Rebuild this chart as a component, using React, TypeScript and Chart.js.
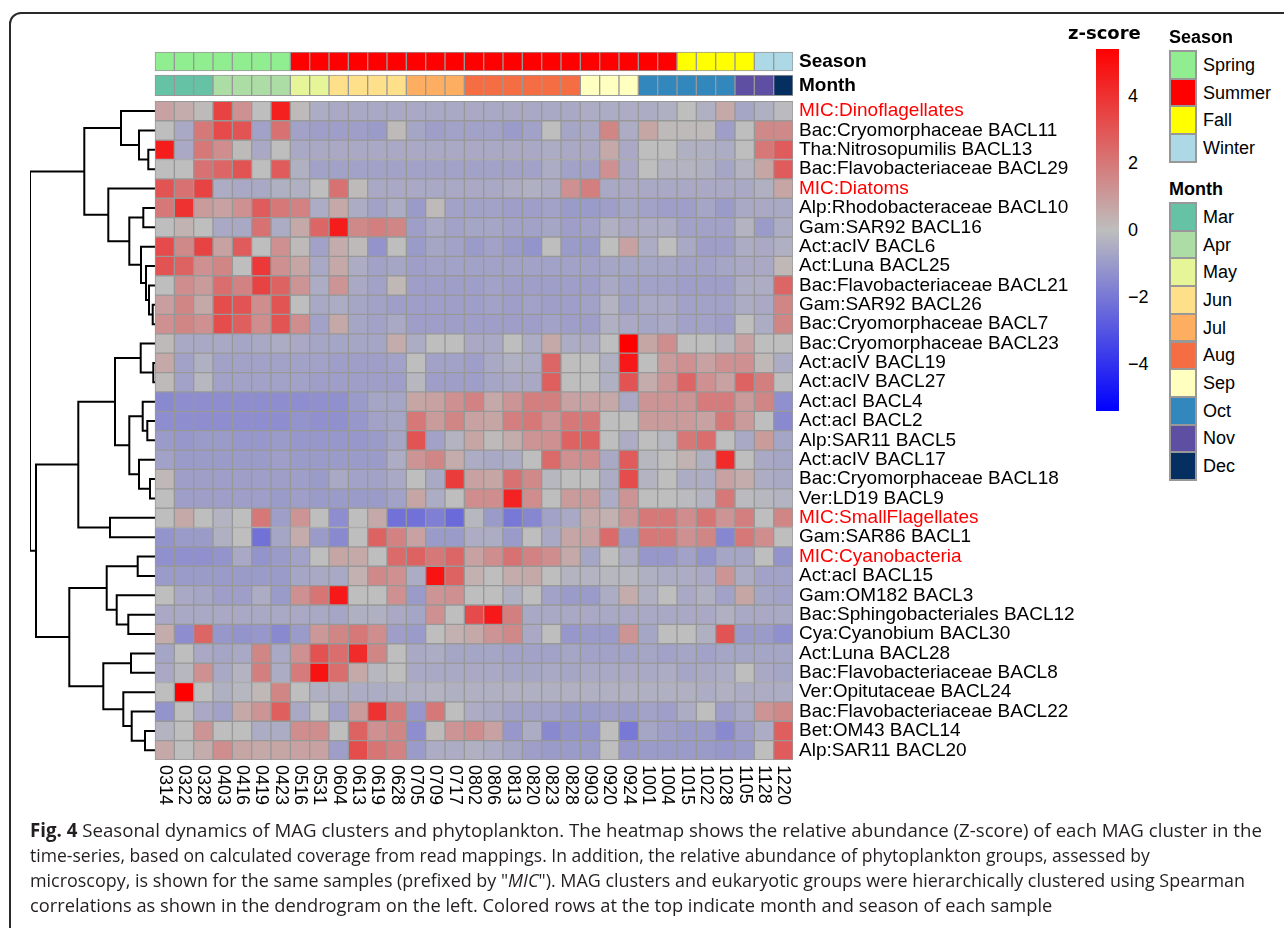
import React, { useEffect, useLayoutEffect, useRef } from 'react';
import { Chart, registerables } from 'chart.js';

Chart.register(...registerables);

// ---------------- data ----------------
const samples = ['0314','0322','0328','0403','0416','0419','0423','0516','0531','0604','0613','0619','0628','0705','0709','0717','0802','0806','0813','0820','0823','0828','0903','0920','0924','1001','1004','1015','1022','1028','1105','1128','1220'];

const seasonOfSample = ['Spring','Spring','Spring','Spring','Spring','Spring','Spring',
  'Summer','Summer','Summer','Summer','Summer','Summer','Summer','Summer','Summer','Summer',
  'Summer','Summer','Summer','Summer','Summer','Summer','Summer','Summer','Summer','Summer',
  'Fall','Fall','Fall','Fall','Winter','Winter'];

const monthOfSample = ['Mar','Mar','Mar','Apr','Apr','Apr','Apr','May','May','Jun','Jun','Jun','Jun',
  'Jul','Jul','Jul','Aug','Aug','Aug','Aug','Aug','Aug','Sep','Sep','Sep','Oct','Oct','Oct','Oct','Oct',
  'Nov','Nov','Dec'];

const seasonNames = ['Spring','Summer','Fall','Winter'];
const seasonColors = ['#90EE90','#FF0000','#FFFF00','#ADD8E6'];
const monthNames = ['Mar','Apr','May','Jun','Jul','Aug','Sep','Oct','Nov','Dec'];
const monthColors = ['#66C2A5','#ABDDA4','#E6F598','#FEE08B','#FDAE61','#F46D43','#FFFFBF','#3288BD','#5E4FA2','#052F61'];

const rowNames = [
  'MIC:Dinoflagellates','Bac:Cryomorphaceae BACL11','Tha:Nitrosopumilis BACL13','Bac:Flavobacteriaceae BACL29',
  'MIC:Diatoms','Alp:Rhodobacteraceae BACL10','Gam:SAR92 BACL16','Act:acIV BACL6','Act:Luna BACL25',
  'Bac:Flavobacteriaceae BACL21','Gam:SAR92 BACL26','Bac:Cryomorphaceae BACL7','Bac:Cryomorphaceae BACL23',
  'Act:acIV BACL19','Act:acIV BACL27','Act:acI BACL4','Act:acI BACL2','Alp:SAR11 BACL5','Act:acIV BACL17',
  'Bac:Cryomorphaceae BACL18','Ver:LD19 BACL9','MIC:SmallFlagellates','Gam:SAR86 BACL1','MIC:Cyanobacteria',
  'Act:acI BACL15','Gam:OM182 BACL3','Bac:Sphingobacteriales BACL12','Cya:Cyanobium BACL30','Act:Luna BACL28',
  'Bac:Flavobacteriaceae BACL8','Ver:Opitutaceae BACL24','Bac:Flavobacteriaceae BACL22','Bet:OM43 BACL14',
  'Alp:SAR11 BACL20'];

// z-scores, one row per cluster (33 samples each)
const zScores = [
  [0.8,0.5,0.1,3.5,1.3,0,4.5,0.1,-0.5,-0.6,-0.6,-0.6,-0.6,-0.6,-0.6,-0.6,-0.6,-0.6,-0.6,-0.6,-0.6,-0.6,-0.5,-0.5,-0.5,-0.5,-0.4,0,-0.4,0.6,-0.7,-0.4,-0.1],
  [0,-0.6,2.0,3.3,3.0,-0.8,2.2,-0.8,-0.9,-0.9,-0.9,-1.0,0.1,-0.7,-0.9,-0.8,-0.8,-0.8,-1.0,-0.8,0,-0.7,-0.6,1.6,-0.5,0.7,0.1,0.1,0.1,-0.9,0,1.5,1.5],
  [4.6,-0.6,2.0,1.4,0.1,-0.6,0,-0.6,-0.6,-0.6,-0.6,-0.6,-0.6,-0.6,-0.6,-0.6,-0.6,-0.6,-0.6,-0.6,-0.5,-0.6,-0.6,0.6,-0.6,0,0,-0.4,-0.4,-0.5,0,2.0,2.8],
  [0,0,2.2,2.5,3.0,0,2.8,-0.4,-0.8,-0.8,-0.8,-0.8,-0.8,-0.8,-0.8,-0.8,-0.8,-0.8,-0.8,-0.8,-0.5,-0.8,-0.8,1.3,-0.6,0,-0.3,-0.3,-0.4,-0.7,-0.3,0.7,2.8],
  [3.0,2.2,3.5,-0.5,-0.6,-0.6,-0.4,-0.4,0,2.2,0.1,-0.6,-0.6,-0.6,-0.6,-0.6,-0.6,-0.6,-0.5,-0.4,-0.5,1.3,1.8,-0.6,-0.6,-0.6,-0.6,-0.6,-0.6,-0.6,-0.6,-0.4,0.7],
  [2.0,4.0,1.0,0.8,1.3,2.8,2.0,1.7,-0.5,0.6,-0.5,-0.8,-0.5,-1.0,0.1,-0.8,-0.8,-0.8,-0.9,-0.9,-0.8,-1.0,-1.0,-0.9,-0.7,-0.8,-0.9,-0.9,-0.7,-1.0,-0.6,-0.6,-0.6],
  [0,0.3,0,-0.6,-0.6,2.2,-0.5,0.6,2.5,4.6,1.5,1.8,1.6,-0.9,-0.6,-0.8,-0.7,-0.7,-0.8,-0.8,-0.7,-0.9,-0.8,-0.4,-0.6,-0.5,-0.5,-0.8,-0.8,-0.8,-0.3,-1.0,-0.5],
  [3.3,1.5,3.5,0.8,2.8,0,1.3,0.1,-0.8,0.5,0.1,-1.2,0,-1.0,-0.7,-0.8,-1.0,-0.8,-1.0,-1.2,0,-1.0,-1.0,0,0.8,-0.5,0,-0.6,-0.9,-0.9,-0.5,-0.6,-0.4],
  [3.0,2.6,1.3,1.6,0,3.8,1.3,0.7,-0.6,0.6,-0.5,-0.8,-0.7,-0.9,-0.8,-0.8,-0.8,-0.8,-0.8,-0.8,-0.8,-0.8,-0.8,-0.7,-0.7,-0.7,-0.7,-0.8,-0.8,-0.7,-0.6,-0.6,0.2],
  [0,1.4,1.0,2.3,1.7,3.5,2.6,1.2,-0.5,1.2,-0.6,-0.8,0.2,-0.9,-0.9,-0.9,-0.9,-0.8,-0.9,-0.9,-0.9,-0.9,-0.9,-0.6,-0.8,-0.8,-0.8,-0.9,-0.9,-0.9,-0.5,-0.5,2.5],
  [0.9,1.6,0.6,3.2,3.0,1.4,3.0,0,-0.6,-0.5,-0.7,-0.8,-0.9,-0.9,-0.9,-0.9,-0.9,-0.8,-0.9,-0.8,-0.9,-0.9,-0.8,-0.3,-0.8,-0.6,-0.6,-0.8,-0.8,-0.8,-0.5,-0.6,1.6],
  [1.3,1.6,1.3,3.2,2.7,1.4,3.0,1.4,-0.8,0.6,-0.7,-0.8,-0.6,-0.9,-0.9,-0.9,-0.9,-0.9,-0.9,-0.9,-0.8,-0.9,-0.9,-0.4,-0.6,-0.7,-0.6,-0.8,-0.8,-0.9,0,-0.5,1.6],
  [0.1,-0.6,-0.6,-0.6,-0.7,-0.6,-0.5,-0.6,-0.7,-0.7,-0.7,-0.7,0.5,-0.5,0,0,-0.6,-0.6,0,-0.5,0.6,-0.5,-0.5,0,5.4,0.7,1.4,0,0,-0.2,0.8,0,0],
  [0.6,-0.8,-0.4,-0.8,-0.8,-0.8,-0.8,-0.8,-0.8,-0.9,-0.9,-0.9,-0.8,0,-0.8,-0.8,-0.9,-0.6,-0.4,-0.5,2.5,0,0,-0.4,4.7,0,1.0,1.3,0.8,1.3,1.3,0.2,-0.5],
  [0.1,-0.8,-0.2,-0.8,-0.8,-0.8,-0.8,-0.8,-0.9,-0.9,-0.9,-0.9,-0.9,-0.2,-0.9,-0.9,-0.9,-0.7,-0.6,-0.6,2.7,0,0,-0.4,3.0,0.5,1.2,2.5,1.3,0.8,2.6,1.8,0],
  [-1.5,-1.4,-1.4,-1.4,-1.4,-1.4,-1.4,-1.4,-1.3,-1.3,-1.0,-0.7,-0.7,0.7,0.8,1.3,1.7,0.6,1.2,1.8,1.8,0.8,0.8,0.6,-0.6,1.2,1.2,1.2,1.9,1.9,1.0,1.6,-1.3],
  [-1.4,-1.4,-1.4,-1.4,-1.4,-1.4,-1.4,-1.2,-1.3,-1.3,-1.1,-0.8,-0.7,2.0,1.0,1.6,0.8,0.7,1.8,2.0,1.2,2.0,2.0,0,0,1.0,1.0,1.0,0.8,2.0,1.0,0,-1.5],
  [-1.0,-1.1,-1.0,-1.0,-1.1,-1.1,-1.0,-1.1,-1.1,-1.1,-1.1,-1.0,-0.7,3.0,-0.8,-0.3,0.7,0.1,0.5,1.2,1.3,2.6,2.6,0,-0.5,0,-0.2,2.0,2.3,0,-0.6,1.0,-0.7],
  [-0.8,-1.0,-1.0,-1.0,-1.0,-1.0,-0.9,-1.0,-1.0,-1.0,-1.0,-1.0,-0.5,1.2,1.6,0.5,-0.5,-0.6,-0.5,0,2.4,1.3,1.4,-0.6,2.8,-0.2,0,0.3,-0.4,4.2,0,-0.6,-0.7],
  [0.2,-0.9,-0.9,-0.9,-0.9,-0.9,-0.9,-0.9,-1.0,-0.6,-0.8,-0.8,-0.6,0,-0.6,3.7,0.8,0.7,2.2,1.5,-0.2,0,0,-0.5,3.2,-0.3,0,-0.5,-0.5,0.8,0.5,-0.5,-0.6],
  [0,-0.9,-0.9,-0.9,-0.9,-0.9,-1.0,-0.9,-1.0,-1.0,-1.0,-1.0,-0.8,0.7,-0.5,0,1.4,1.4,4.4,1.4,0,1.0,1.0,-0.5,1.2,0,0,-0.1,-0.3,2.0,-0.1,-0.2,-0.3],
  [0,0.6,0,-0.3,0,2.0,-0.9,1.2,0,-1.4,0,0.6,-2.2,-2.2,-1.8,-2.4,-0.2,-1.0,-2.0,-1.6,-0.8,-0.6,0.6,0.4,1.2,2.0,2.0,1.4,2.1,1.2,1.8,0,1.6],
  [-1.2,-1.0,-1.0,-0.4,0,-2.2,-0.7,0.5,-1.0,-1.5,0,2.6,1.7,0.8,-1.0,-1.0,-0.5,-0.5,-1.0,0,-0.6,0.7,0.8,2.4,-1.0,2.0,2.0,1.3,1.6,-1.6,2.0,1.4,0],
  [-1.3,-1.3,-1.3,-1.2,-0.6,-1.2,-1.0,-0.8,0,0.7,0.6,0,2.4,2.6,2.0,2.5,0.8,1.4,2.2,1.7,1.4,0.6,-0.7,0,-0.5,-1.1,-1.1,-0.8,-1.2,-0.7,-0.7,0,-1.2],
  [-1.0,-1.0,-1.0,-1.0,-1.0,-1.0,-1.0,-0.7,-0.6,-0.6,0.4,1.5,1.3,-0.5,4.9,2.6,0.4,0,0.5,0.6,0,-0.3,-0.3,-0.2,-0.2,-0.4,-0.5,-0.5,-0.6,1.2,-0.5,-0.8,-0.8],
  [0,-0.6,-0.7,-0.9,-0.9,-0.5,-1.0,1.3,2.1,4.7,0,0,1.3,-1.0,1.2,1.3,0,0,-0.4,0,-0.8,-1.0,-1.0,-0.5,0.5,-0.4,0,-0.6,-0.4,-0.8,0.7,-0.7,-0.8],
  [-0.6,-0.6,-0.6,-0.6,-0.6,-0.6,-0.6,-0.6,-0.6,-0.7,-0.4,-0.4,-0.6,-0.7,1.3,0,3.3,4.7,1.8,-0.6,-0.6,-0.6,-0.6,-0.6,-0.6,-0.6,-0.6,-0.6,-0.6,-0.4,-0.6,-0.6,-0.6],
  [0.5,-1.4,2.5,-1.1,-1.2,-1.1,-1.5,-1.0,1.1,1.6,2.0,1.4,-0.9,-1.0,0,0.4,0.6,1.2,1.5,-0.6,0,-1.1,-1.0,-1.0,1.2,-0.7,0,0,-0.4,3.0,-1.0,-1.0,-1.3],
  [-0.7,0,-0.6,-0.7,-0.6,1.6,-0.6,1.3,3.1,2.3,4.2,1.6,0,-0.6,-0.5,-0.7,-0.7,-0.7,-0.8,-0.8,-0.8,-0.7,-0.8,-0.8,-0.8,-0.7,-0.8,-0.7,-0.8,-0.7,-0.7,-0.7,-0.7],
  [-0.6,-0.2,1.3,-0.6,-0.3,1.8,-0.5,1.9,4.9,2.3,0.6,-0.2,0,-0.6,-0.6,-0.6,-0.6,-0.6,-0.7,-0.7,-0.6,-0.7,-0.6,-0.6,-0.6,-0.6,-0.5,-0.7,-0.6,-0.5,0,-0.6,-0.7],
  [0,5.4,0,-0.4,-0.2,0.2,1.6,0,-0.4,-0.4,-0.5,-0.5,-0.4,-0.4,-0.3,-0.4,-0.4,-0.4,-0.4,-0.4,-0.4,-0.4,-0.4,-0.4,-0.4,-0.4,-0.4,-0.4,-0.5,-0.4,-0.5,-0.5,-0.5],
  [-1.2,0,-0.6,-0.8,0.6,1.2,2.7,-0.6,0,-0.8,1.0,4.0,1.9,-1.1,2.0,0,-0.5,-0.6,-0.8,-0.8,-0.8,-1.0,-1.0,-0.9,-1.0,-0.8,-0.9,-0.5,0,-0.9,-0.6,1.2,1.5],
  [-0.3,0,1.2,0,0,-0.5,-0.5,1.4,1.4,0,2.6,1.3,1.6,-1.4,0.1,1.2,1.4,0.8,-1.1,-0.5,-1.5,-1.2,-1.2,0,-2.0,-0.7,-0.9,-1.0,-1.0,-1.5,-0.9,-0.5,2.7],
  [0.6,0,0.5,1.4,0.7,0.6,0.7,0.8,0.8,-0.9,3.2,2.1,1.7,-1.0,-0.5,-0.5,-0.4,-0.5,-0.7,-0.9,-1.0,-1.0,-1.0,0,-1.1,-1.0,-1.0,-1.0,-1.0,-1.1,-1.0,0,2.8],
];

// hierarchical clustering merges: [childA, childB, height]; negative = leaf row (1-based), positive = earlier merge (1-based)
const dendroMerges = [
  [-11, -12, 2.3], [-10, 1, 6], [-9, 2, 9], [-8, 3, 14], [-6, -7, 11.7], [5, 4, 25.7], [-5, 6, 46.7],
  [-3, -4, 6.7], [-2, 8, 16], [-1, 9, 34], [10, 7, 70.7],
  [-14, -15, 1.7], [-13, 12, 14.3], [-17, -18, 7.7], [-16, 14, 12.3], [-20, -21, 5], [-19, 16, 16],
  [15, 17, 25.7], [13, 18, 40], [-22, -23, 45], [19, 20, 76.7],
  [-24, -25, 17.3], [-27, -28, 26.7], [-26, 23, 38.3], [22, 24, 48.3], [-29, -30, 24], [-33, -34, 10],
  [-32, 27, 23.3], [-31, 28, 31.7], [26, 29, 51.7], [25, 30, 85.7], [21, 31, 119], [11, 32, 125],
];

const colorbarTicks = [4, 2, 0, -2, -4];
const Z_LIMIT = 5.4;

const captionLines = [
  'Seasonal dynamics of MAG clusters and phytoplankton. The heatmap shows the relative abundance (Z-score) of each MAG cluster in the',
  'time-series, based on calculated coverage from read mappings. In addition, the relative abundance of phytoplankton groups, assessed by',
  'microscopy, is shown for the same samples (prefixed by "',
  'correlations as shown in the dendrogram on the left. Colored rows at the top indicate month and season of each sample',
];
// width each caption line occupies in the reference
const captionWidths = [1232, 1120, 1215, 1022];

// ---------------- helpers ----------------
const SEASON_BAND = [-2.55, -1.57];
const MONTH_BAND = [-1.36, -0.3];
const Y_MIN = -2.6;
const DEND_X_MIN = -6.466;
const GRID = '#989898';
const FONT = '"Liberation Sans", Arial, sans-serif';

function zColor(v: number): string {
  const t = Math.min(Math.abs(v) / Z_LIMIT, 1);
  const g = Math.round(190 * (1 - t));
  const hi = Math.round(190 + 65 * t);
  return v >= 0 ? `rgb(${hi},${g},${g})` : `rgb(${g},${g},${hi})`;
}

function dendrogramPoints() {
  const maxH = Math.max(...dendroMerges.map((m) => m[2]));
  const nx: number[] = [];
  const ny: number[] = [];
  const pts: { x: number; y: number | null }[] = [];
  const pos = (c: number) => (c < 0 ? { x: 0, y: -c - 0.5 } : { x: nx[c - 1], y: ny[c - 1] });
  dendroMerges.forEach(([a, b, h], k) => {
    const pa = pos(a);
    const pb = pos(b);
    const xm = (DEND_X_MIN * h) / maxH;
    nx[k] = xm;
    ny[k] = (pa.y + pb.y) / 2;
    pts.push({ x: pa.x, y: pa.y }, { x: xm, y: pa.y }, { x: xm, y: pb.y }, { x: pb.x, y: pb.y }, { x: pb.x, y: null });
  });
  return pts;
}

const yTickValues = [(SEASON_BAND[0] + SEASON_BAND[1]) / 2, (MONTH_BAND[0] + MONTH_BAND[1]) / 2, ...rowNames.map((_, j) => j + 0.5)];
const yTickLabels = ['Season', 'Month', ...rowNames];

const xLabelPlugin = {
  id: 'xLabels',
  afterDraw(chart: any) {
    const { ctx, scales } = chart;
    const y0 = scales.y.getPixelForValue(rowNames.length) + 5;
    ctx.save();
    ctx.font = `18px ${FONT}`;
    ctx.fillStyle = '#000';
    ctx.textAlign = 'left';
    ctx.textBaseline = 'middle';
    samples.forEach((s, i) => {
      const px = scales.x.getPixelForValue(i + 0.5);
      ctx.save();
      ctx.translate(px, y0);
      ctx.rotate(Math.PI / 2);
      ctx.fillText(s, 0, 0);
      ctx.restore();
    });
    ctx.restore();
  },
};

function cellDataset(band: number[], colors: string[]) {
  return {
    type: 'bar' as const,
    data: samples.map((_, i) => ({ x: i + 0.5, y: [band[0], band[1]] })),
    backgroundColor: colors,
    borderColor: GRID,
    borderWidth: 1,
    borderSkipped: false,
    grouped: false,
    barPercentage: 1,
    categoryPercentage: 1,
  };
}

// ---------------- component ----------------
export default function App() {
  const canvasRef = useRef<HTMLCanvasElement | null>(null);
  const lineRefs = useRef<(HTMLDivElement | null)[]>([]);

  useLayoutEffect(() => {
    lineRefs.current.forEach((el, k) => {
      if (!el) return;
      const span = el.firstElementChild as HTMLElement | null;
      const w = span ? span.offsetWidth : 0;
      if (w > 0) el.style.transform = `scaleX(${captionWidths[k] / w})`;
    });
  }, []);

  useEffect(() => {
    const datasets: any[] = [];
    datasets.push(cellDataset(SEASON_BAND, seasonOfSample.map((s) => seasonColors[seasonNames.indexOf(s)])));
    datasets.push(cellDataset(MONTH_BAND, monthOfSample.map((m) => monthColors[monthNames.indexOf(m)])));
    zScores.forEach((row, j) => {
      datasets.push(cellDataset([j, j + 1], row.map(zColor)));
    });
    datasets.push({
      type: 'line',
      data: dendrogramPoints(),
      borderColor: '#000',
      borderWidth: 2,
      pointRadius: 0,
      fill: false,
      tension: 0,
      spanGaps: false,
    });

    const chart = new Chart(canvasRef.current as HTMLCanvasElement, {
      type: 'bar',
      data: { datasets },
      options: {
        responsive: false,
        animation: false,
        devicePixelRatio: 1,
        events: [],
        layout: { padding: { left: 30, top: 51, right: 0, bottom: 60 } },
        plugins: { legend: { display: false }, tooltip: { enabled: false } },
        scales: {
          x: {
            type: 'linear',
            min: DEND_X_MIN,
            max: samples.length,
            offset: false,
            display: false,
            afterBuildTicks: (axis: any) => {
              axis.ticks = samples.map((_, i) => ({ value: i + 0.5 }));
            },
          },
          y: {
            type: 'linear',
            position: 'right',
            reverse: true,
            min: Y_MIN,
            max: rowNames.length,
            grid: { display: false, drawTicks: false },
            border: { display: false },
            afterBuildTicks: (axis: any) => {
              axis.ticks = yTickValues.map((v) => ({ value: v }));
            },
            afterFit: (axis: any) => {
              axis.width = 297;
            },
            ticks: {
              autoSkip: false,
              padding: 6,
              callback: (_v: any, i: number) => yTickLabels[i],
              color: (c: any) => (yTickLabels[c.index] && yTickLabels[c.index].startsWith('MIC:') ? '#FF0000' : '#000000'),
              font: (c: any) => ({ family: FONT, size: 19, weight: c.index < 2 ? 'bold' : 'normal' }),
            },
          },
        },
      } as any,
      plugins: [xLabelPlugin],
    });
    return () => chart.destroy();
  }, []);

  const cbTop = 49;
  const cbHeight = 362;
  const swatch = 27.7;

  const lineStyle: React.CSSProperties = { position: 'absolute', left: 0, transformOrigin: 'left top', whiteSpace: 'nowrap' };

  return (
    <div style={{ position: 'absolute', left: 0, top: 0, width: 1284, height: 928, overflow: 'hidden', background: '#fff', fontFamily: FONT }}>
      <div style={{ position: 'absolute', left: 9, top: 12, width: 1320, height: 960, border: '2px solid #2a2a2a', borderRadius: 12, boxSizing: 'border-box' }} />
      <canvas ref={canvasRef} width={1090} height={820} style={{ position: 'absolute', left: 0, top: 0, width: 1090, height: 820 }} />

      {/* z-score colour bar */}
      <div style={{ position: 'absolute', left: 1068, top: 22, fontFamily: '"DejaVu Sans", sans-serif', fontWeight: 'bold', fontSize: 18, lineHeight: '22px' }}>z-score</div>
      <div style={{ position: 'absolute', left: 1096, top: cbTop, width: 23, height: cbHeight, background: 'linear-gradient(to bottom, #FF0000, #BEBEBE, #0000FF)' }} />
      {colorbarTicks.map((v) => (
        <div key={v} style={{ position: 'absolute', left: 1128, top: cbTop + ((Z_LIMIT - v) / (2 * Z_LIMIT)) * cbHeight - 11, fontSize: 18, lineHeight: '22px' }}>
          {v < 0 ? `\u2212${-v}` : `${v}`}
        </div>
      ))}

      {/* Season legend */}
      <div style={{ position: 'absolute', left: 1169, top: 26, fontWeight: 'bold', fontSize: 18, lineHeight: '22px' }}>Season</div>
      {seasonNames.map((s, k) => (
        <React.Fragment key={s}>
          <div style={{ position: 'absolute', left: 1169, top: 50 + k * swatch, width: 28, height: swatch + 2, boxSizing: 'border-box', border: `2px solid ${GRID}`, background: seasonColors[k] }} />
          <div style={{ position: 'absolute', left: 1203, top: 50 + k * swatch + swatch / 2 - 10, fontSize: 18, lineHeight: '22px' }}>{s}</div>
        </React.Fragment>
      ))}

      {/* Month legend */}
      <div style={{ position: 'absolute', left: 1169, top: 178, fontWeight: 'bold', fontSize: 18, lineHeight: '22px' }}>Month</div>
      {monthNames.map((m, k) => (
        <React.Fragment key={m}>
          <div style={{ position: 'absolute', left: 1169, top: 202 + k * swatch, width: 28, height: swatch + 2, boxSizing: 'border-box', border: `2px solid ${GRID}`, background: monthColors[k] }} />
          <div style={{ position: 'absolute', left: 1203, top: 202 + k * swatch + swatch / 2 - 10, fontSize: 18, lineHeight: '22px' }}>{m}</div>
        </React.Fragment>
      ))}

      {/* caption */}
      <div style={{ position: 'absolute', left: 30, top: 818, fontFamily: '"Open Sans", sans-serif', fontSize: 19, lineHeight: '25px', color: '#231F20' }}>
        <div ref={(el) => { lineRefs.current[0] = el; }} style={{ ...lineStyle, top: 0 }}>
          <span><b>Fig. 4</b> {captionLines[0]}</span>
        </div>
        <div ref={(el) => { lineRefs.current[1] = el; }} style={{ ...lineStyle, top: 25 }}>
          <span>{captionLines[1]}</span>
        </div>
        <div ref={(el) => { lineRefs.current[2] = el; }} style={{ ...lineStyle, top: 50 }}>
          <span>{captionLines[2]}<i>MIC</i>"). MAG clusters and eukaryotic groups were hierarchically clustered using Spearman</span>
        </div>
        <div ref={(el) => { lineRefs.current[3] = el; }} style={{ ...lineStyle, top: 75 }}>
          <span>{captionLines[3]}</span>
        </div>
      </div>
    </div>
  );
}
